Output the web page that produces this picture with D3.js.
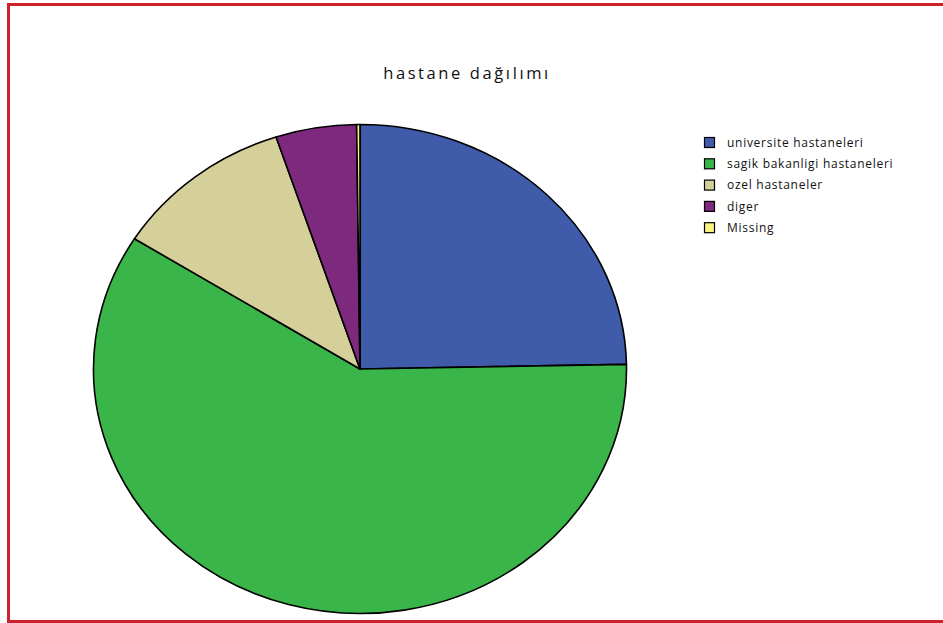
<!DOCTYPE html>
<html><head><meta charset="utf-8">
<script src="https://cdn.jsdelivr.net/npm/d3@7/dist/d3.min.js"></script>
<style>
html,body{margin:0;padding:0;background:#fff;}
svg{display:block;}
text{font-family:"Open Sans","Noto Sans",sans-serif;}
</style></head>
<body>
<script>
const categories = ["universite hastaneleri","sagik bakanligi hastaneleri","ozel hastaneler","diger","Missing"];
const values = [24.7, 59.25, 10.96, 4.9, 0.2];
const colors = ["#3F5BAA","#3AB54A","#D5CF99","#7C297E","#FBF37F"];
const title = "hastane dağılımı";

const W = 943, H = 623;
const svg = d3.select("body").append("svg").attr("width", W).attr("height", H);

svg.append("rect").attr("x",8.5).attr("y",4.5).attr("width",W).attr("height",617)
  .attr("fill","none").attr("stroke","#CC2229").attr("stroke-width",3);

svg.append("text").attr("x",467).attr("y",79).attr("text-anchor","middle")
  .attr("font-size",16.5).attr("fill","#111").attr("letter-spacing",2.6).text(title);

const cx = 360, cy = 369, rx = 266.5, ry = 244.5;
const data = categories.map((c,i)=>({c, v: values[i], col: colors[i]}));
const pie = d3.pie().value(d=>d.v).sort(null);
const arc = d3.arc().innerRadius(0).outerRadius(rx);
const g = svg.append("g").attr("transform",`translate(${cx},${cy}) scale(1,${ry/rx})`);
g.selectAll("path").data(pie(data)).join("path")
  .attr("d", arc).attr("fill", d=>d.data.col)
  .attr("stroke","#000").attr("stroke-width",1.6)
  .attr("stroke-linejoin","round")
  .attr("vector-effect","non-scaling-stroke");

const leg = svg.append("g").attr("transform","translate(704,137)");
const rowH = 21.3;
const item = leg.selectAll("g").data(data).join("g")
  .attr("transform",(d,i)=>`translate(0,${i*rowH})`);
item.append("rect").attr("x",0.5).attr("y",0.5).attr("width",10).attr("height",10)
  .attr("fill",d=>d.col).attr("stroke","#000").attr("stroke-width",1.2);
item.append("text").attr("x",23).attr("y",9.8).attr("font-size",12).attr("fill","#111")
  .attr("letter-spacing",0.72).text(d=>d.c);
</script>
</body></html>
